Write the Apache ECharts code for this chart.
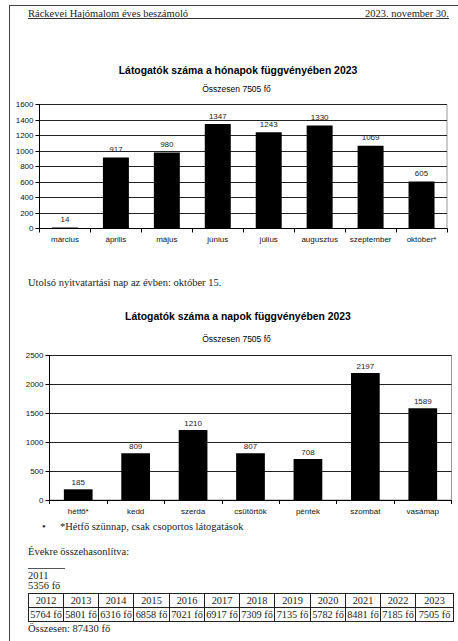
<!DOCTYPE html>
<html>
<head>
<meta charset="utf-8">
<script src="https://cdn.jsdelivr.net/npm/echarts@6/dist/echarts.min.js"></script>
<style>
  html, body { margin:0; padding:0; background:#fff; }
  #page { position:relative; width:458px; height:641px; overflow:hidden; background:#fff; }
  #chart { position:absolute; left:0; top:0; width:458px; height:641px; }
  .t { position:absolute; font-family:"Liberation Serif", serif; font-size:10.5px; color:#222; white-space:nowrap; line-height:12px; }
  #borderTop { position:absolute; left:9px; top:5px; width:449px; height:0; border-top:1px solid #444; }
  #borderLeft { position:absolute; left:9px; top:5px; width:0; height:636px; border-left:1px solid #444; }
  #hdrLine { position:absolute; left:28px; top:18px; width:421px; height:0; border-top:1px solid #333; }
  #sepLine { position:absolute; left:28px; top:568px; width:37px; height:0; border-top:1px solid #555; }
  #yrTable { position:absolute; left:28px; top:593px; border-collapse:collapse; table-layout:fixed; font-family:"Liberation Serif", serif; font-size:10.3px; color:#222; }
  #yrTable td { border:1px solid #222; text-align:center; padding:0; height:13px; line-height:12px; white-space:nowrap; overflow:hidden; }
</style>
</head>
<body>
<div id="page">
  <div id="chart"></div>
  <div id="borderTop"></div>
  <div id="borderLeft"></div>
  <div class="t" id="hdrL" style="left:28px; top:8px;"></div>
  <div class="t" id="hdrR" style="right:9px; top:8px;"></div>
  <div id="hdrLine"></div>
  <div class="t" id="note1" style="left:28px; top:277px;"></div>
  <div class="t" style="left:42px; top:521px;">•</div>
  <div class="t" id="note2" style="left:60px; top:521px;"></div>
  <div class="t" id="cmpTitle" style="left:28px; top:546px;"></div>
  <div id="sepLine"></div>
  <div class="t" id="firstYear" style="left:28px; top:570px;"></div>
  <div class="t" id="firstVal" style="left:28px; top:580px;"></div>
  <table id="yrTable"><colgroup id="cols"></colgroup><tbody><tr id="rowYears"></tr><tr id="rowVals"></tr></tbody></table>
  <div class="t" id="totalAll" style="left:28px; top:623px;"></div>
</div>
<script>
// ---- data ----
const headerLeft = "Ráckevei Hajómalom éves beszámoló";
const headerRight = "2023. november 30.";
const title1 = "Látogatók száma a hónapok függvényében 2023";
const subtitle1 = "Összesen 7505 fő";
const months = ["március", "április", "május", "június", "július", "augusztus", "szeptember", "október*"];
const monthVisitors = [14, 917, 980, 1347, 1243, 1330, 1069, 605];
const noteLastDay = "Utolsó nyitvatartási nap az évben: október 15.";
const title2 = "Látogatók száma a napok függvényében 2023";
const subtitle2 = "Összesen 7505 fő";
const days = ["hétfő*", "kedd", "szerda", "csütörtök", "péntek", "szombat", "vasámap"];
const dayVisitors = [185, 809, 1210, 807, 708, 2197, 1589];
const noteMonday = "*Hétfő szünnap, csak csoportos látogatások";
const compareTitle = "Évekre összehasonlítva:";
const firstYear = "2011";
const firstYearValue = "5356 fő";
const years = ["2012", "2013", "2014", "2015", "2016", "2017", "2018", "2019", "2020", "2021", "2022", "2023"];
const yearVisitors = [5764, 5801, 6316, 6858, 7021, 6917, 7309, 7135, 5782, 8481, 7185, 7505];
const unit = " fő";
const grandTotal = "Összesen: 87430 fő";

// ---- text ----
document.getElementById('hdrL').textContent = headerLeft;
document.getElementById('hdrR').textContent = headerRight;
document.getElementById('note1').textContent = noteLastDay;
document.getElementById('note2').textContent = noteMonday;
document.getElementById('cmpTitle').textContent = compareTitle;
document.getElementById('firstYear').textContent = firstYear;
document.getElementById('firstVal').textContent = firstYearValue;
document.getElementById('totalAll').textContent = grandTotal;
const colW = [35,35,35,36,35,35,35,36,35,35,35,38];
const cols = document.getElementById('cols');
const ry = document.getElementById('rowYears');
const rv = document.getElementById('rowVals');
years.forEach((y, i) => {
  const c = document.createElement('col'); c.style.width = colW[i] + 'px'; cols.appendChild(c);
  const a = document.createElement('td'); a.textContent = y; ry.appendChild(a);
  const b = document.createElement('td'); b.textContent = yearVisitors[i] + unit; rv.appendChild(b);
});

// ---- chart ----
const chart = echarts.init(document.getElementById('chart'), null, { renderer: 'svg' });
const FONT = 'Liberation Sans';
function xAx(gi, data) {
  return {
    type: 'category', gridIndex: gi, data: data,
    axisLine: { show: true, lineStyle: { color: '#000', width: 1 } },
    axisTick: { show: true, length: 4, lineStyle: { color: '#000' } },
    axisLabel: { fontFamily: FONT, fontSize: 8, color: '#111', margin: 7, interval: 0 },
    splitLine: { show: false }
  };
}
function yAx(gi, max, interval) {
  return {
    type: 'value', gridIndex: gi, min: 0, max: max, interval: interval,
    axisLine: { show: true, lineStyle: { color: '#000', width: 1 } },
    axisTick: { show: true, length: 4, lineStyle: { color: '#000' } },
    axisLabel: { fontFamily: FONT, fontSize: 8, color: '#111', margin: 6, formatter: v => String(v) },
    splitLine: { show: true, lineStyle: { color: '#222', width: 1 } }
  };
}
function barSeries(i, data, bw, dist) {
  return {
    type: 'bar', xAxisIndex: i, yAxisIndex: i, data: data, barWidth: bw,
    itemStyle: { color: '#000' },
    label: { show: true, position: 'top', distance: dist, fontFamily: FONT, fontSize: 8, color: '#222' },
    silent: true, animation: false
  };
}
function txt(x, y, text, bold, size) {
  return { type: 'text', x: x, y: y, silent: true,
    style: { text: text, fontFamily: FONT, fontSize: size, fontWeight: bold ? 'bold' : 'normal', fill: '#000', textAlign: 'center', textVerticalAlign: 'middle' } };
}
chart.setOption({
  animation: false,
  grid: [
    { left: 39.5, top: 104.5, width: 407.5, height: 124, show: true, borderColor: '#9a9a9a', borderWidth: 1, backgroundColor: 'transparent' },
    { left: 49.5, top: 355.5, width: 402, height: 144.5, show: true, borderColor: '#9a9a9a', borderWidth: 1, backgroundColor: 'transparent' }
  ],
  xAxis: [xAx(0, months), xAx(1, days)],
  yAxis: [yAx(0, 1600, 200), yAx(1, 2500, 500)],
  series: [barSeries(0, monthVisitors, '51%', 4), barSeries(1, dayVisitors, '50%', 3)],
  graphic: [
    txt(238, 70, title1, true, 10.4),
    txt(236.5, 89, subtitle1, false, 8.5),
    txt(238, 316, title2, true, 10.4),
    txt(236.5, 339, subtitle2, false, 8.5)
  ]
});
</script>
</body>
</html>
